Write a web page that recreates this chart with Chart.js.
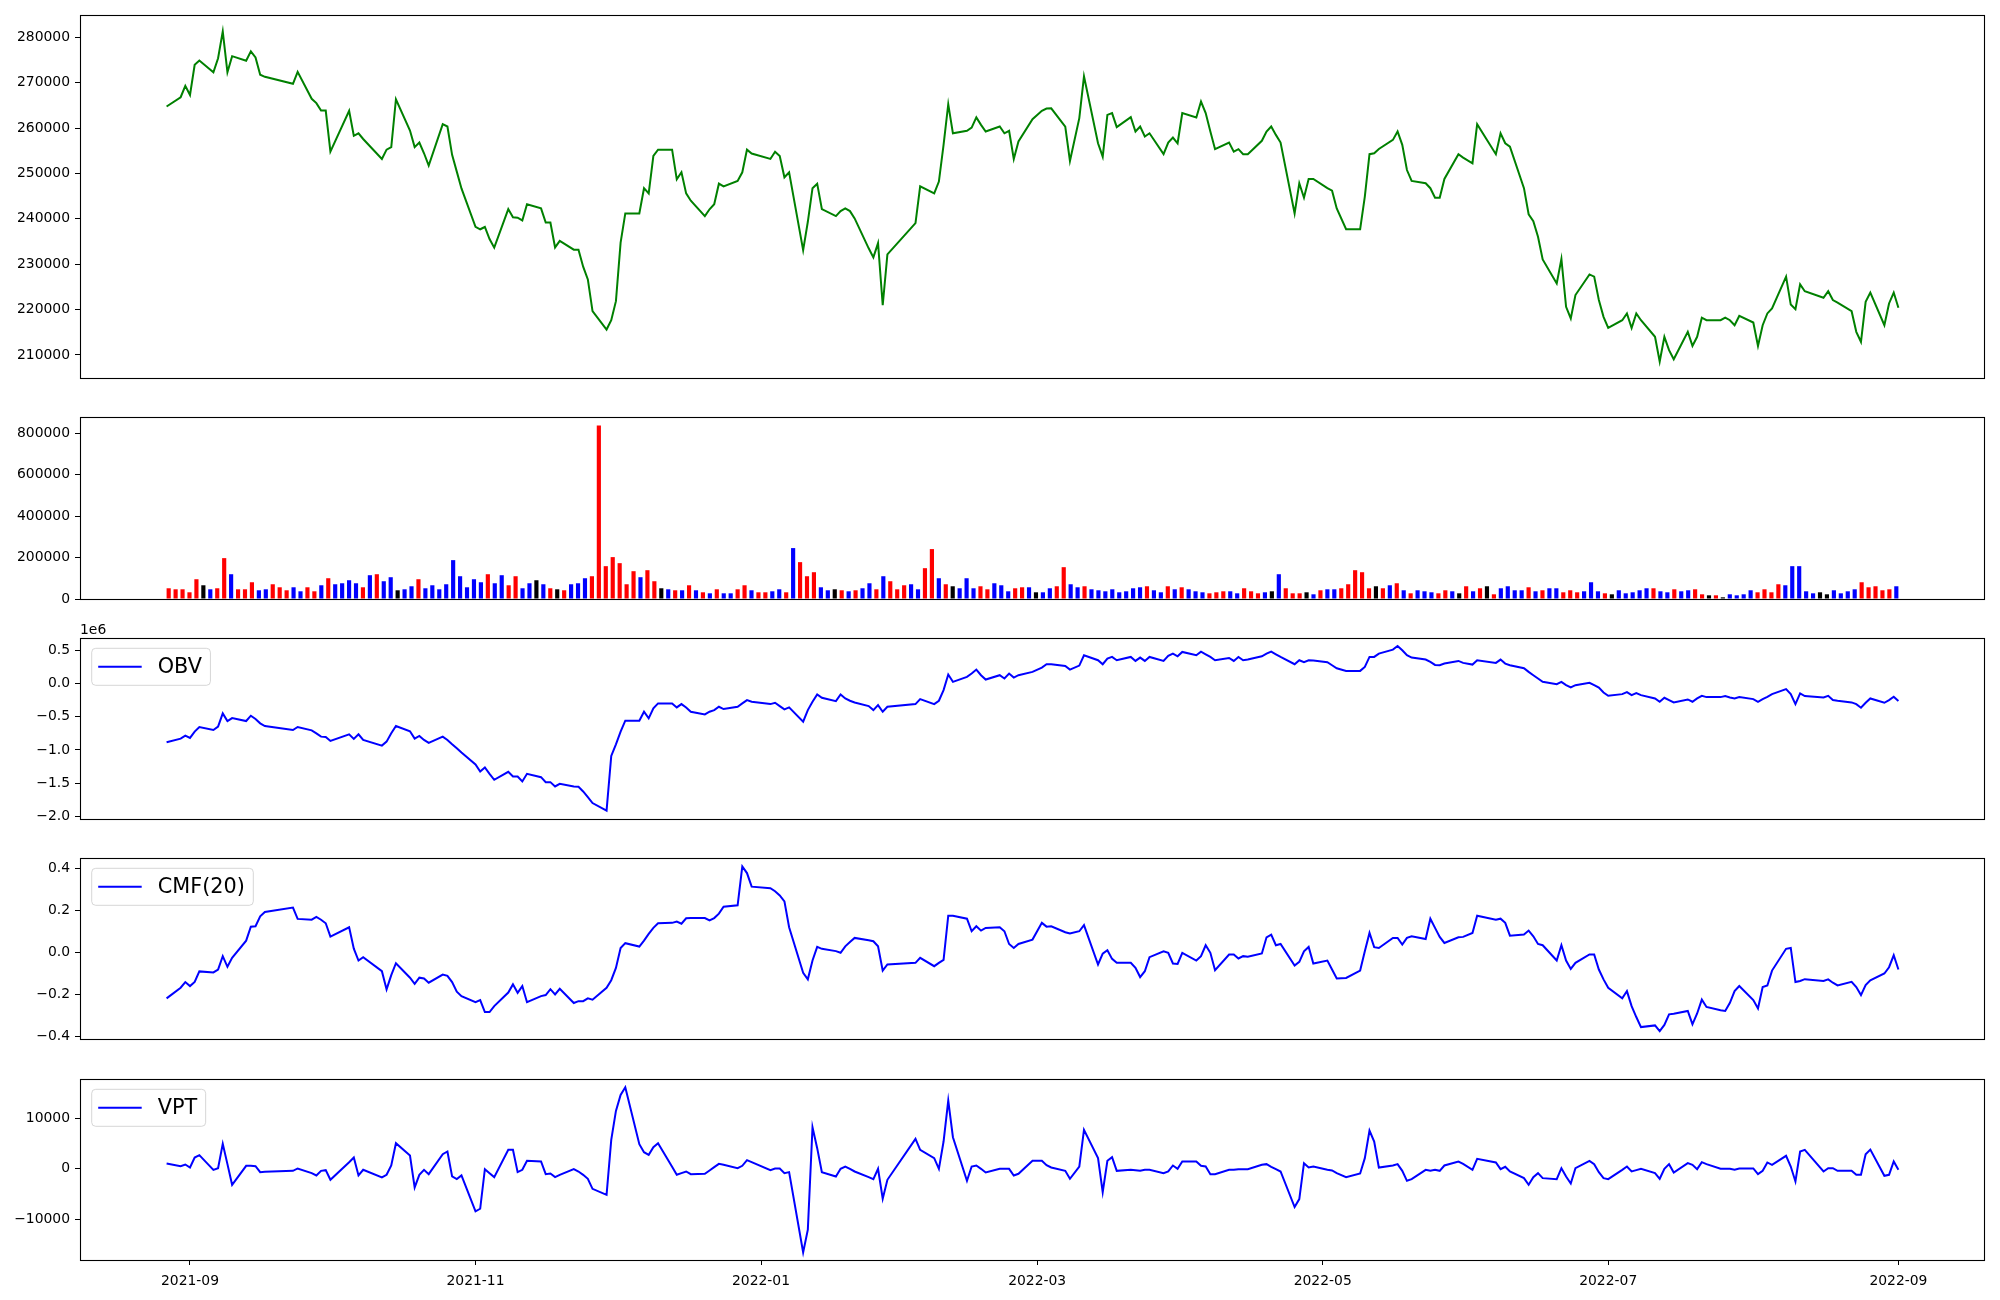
<!DOCTYPE html>
<html><head><meta charset="utf-8">
<script src="https://cdn.jsdelivr.net/npm/chart.js@4.4.1/dist/chart.umd.min.js"></script>
<style>
html,body{margin:0;padding:0;background:#fff;}
body{width:2000px;height:1300px;position:relative;overflow:hidden;}
canvas{position:absolute;left:0;}
</style></head><body>
<canvas id="cPrice" width="2000" height="398" style="top:0px"></canvas>
<canvas id="cVol" width="2000" height="221" style="top:397px"></canvas>
<canvas id="cObv" width="2000" height="221" style="top:618px"></canvas>
<canvas id="cCmf" width="2000" height="221" style="top:838px"></canvas>
<canvas id="cVpt" width="2000" height="241" style="top:1059px"></canvas>
<script>
// ---------------- DATA ----------------
const dates = [
"2021-08-27","2021-08-30","2021-08-31",
"2021-09-01","2021-09-02","2021-09-03","2021-09-06","2021-09-07","2021-09-08","2021-09-09","2021-09-10","2021-09-13","2021-09-14","2021-09-15","2021-09-16","2021-09-17","2021-09-23","2021-09-24","2021-09-27","2021-09-28","2021-09-29","2021-09-30",
"2021-10-01","2021-10-05","2021-10-06","2021-10-07","2021-10-08","2021-10-12","2021-10-13","2021-10-14","2021-10-15","2021-10-18","2021-10-19","2021-10-20","2021-10-21","2021-10-22","2021-10-25","2021-10-26","2021-10-27","2021-10-28","2021-10-29",
"2021-11-01","2021-11-02","2021-11-03","2021-11-04","2021-11-05","2021-11-08","2021-11-09","2021-11-10","2021-11-11","2021-11-12","2021-11-15","2021-11-16","2021-11-17","2021-11-18","2021-11-19","2021-11-22","2021-11-23","2021-11-24","2021-11-25","2021-11-26","2021-11-29","2021-11-30",
"2021-12-01","2021-12-02","2021-12-03","2021-12-06","2021-12-07","2021-12-08","2021-12-09","2021-12-10","2021-12-13","2021-12-14","2021-12-15","2021-12-16","2021-12-17","2021-12-20","2021-12-21","2021-12-22","2021-12-23","2021-12-24","2021-12-27","2021-12-28","2021-12-29","2021-12-30",
"2022-01-03","2022-01-04","2022-01-05","2022-01-06","2022-01-07","2022-01-10","2022-01-11","2022-01-12","2022-01-13","2022-01-14","2022-01-17","2022-01-18","2022-01-19","2022-01-20","2022-01-21","2022-01-24","2022-01-25","2022-01-26","2022-01-27","2022-01-28",
"2022-02-03","2022-02-04","2022-02-07","2022-02-08","2022-02-09","2022-02-10","2022-02-11","2022-02-14","2022-02-15","2022-02-16","2022-02-17","2022-02-18","2022-02-21","2022-02-22","2022-02-23","2022-02-24","2022-02-25","2022-02-28",
"2022-03-02","2022-03-03","2022-03-04","2022-03-07","2022-03-08","2022-03-10","2022-03-11","2022-03-14","2022-03-15","2022-03-16","2022-03-17","2022-03-18","2022-03-21","2022-03-22","2022-03-23","2022-03-24","2022-03-25","2022-03-28","2022-03-29","2022-03-30","2022-03-31",
"2022-04-01","2022-04-04","2022-04-05","2022-04-06","2022-04-07","2022-04-08","2022-04-11","2022-04-12","2022-04-13","2022-04-14","2022-04-15","2022-04-18","2022-04-19","2022-04-20","2022-04-21","2022-04-22","2022-04-25","2022-04-26","2022-04-27","2022-04-28","2022-04-29",
"2022-05-02","2022-05-03","2022-05-04","2022-05-06","2022-05-09","2022-05-10","2022-05-11","2022-05-12","2022-05-13","2022-05-16","2022-05-17","2022-05-18","2022-05-19","2022-05-20","2022-05-23","2022-05-24","2022-05-25","2022-05-26","2022-05-27","2022-05-30","2022-05-31",
"2022-06-02","2022-06-03","2022-06-07","2022-06-08","2022-06-09","2022-06-10","2022-06-13","2022-06-14","2022-06-15","2022-06-16","2022-06-17","2022-06-20","2022-06-21","2022-06-22","2022-06-23","2022-06-24","2022-06-27","2022-06-28","2022-06-29","2022-06-30",
"2022-07-01","2022-07-04","2022-07-05","2022-07-06","2022-07-07","2022-07-08","2022-07-11","2022-07-12","2022-07-13","2022-07-14","2022-07-15","2022-07-18","2022-07-19","2022-07-20","2022-07-21","2022-07-22","2022-07-25","2022-07-26","2022-07-27","2022-07-28","2022-07-29",
"2022-08-01","2022-08-02","2022-08-03","2022-08-04","2022-08-05","2022-08-08","2022-08-09","2022-08-10","2022-08-11","2022-08-12","2022-08-16","2022-08-17","2022-08-18","2022-08-19","2022-08-22","2022-08-23","2022-08-24","2022-08-25","2022-08-26","2022-08-29","2022-08-30","2022-08-31",
"2022-09-01"];

const closePrice = [
264750,266800,269300,
267300,273950,274900,272300,275400,281300,272300,275850,274850,276900,275550,271750,271300,269750,272400,266450,265500,263850,263850,
254800,263800,258300,258850,257600,253200,255250,255800,266350,259450,255800,256800,254450,251750,260850,260350,254100,250400,246700,
238250,237700,238200,235550,233650,242150,240350,240250,239650,243200,242300,239200,239200,233700,235150,233200,233200,229450,226650,219650,215600,217650,
221850,234750,241200,241200,246750,245600,253850,255250,255250,248700,250250,245600,244000,240600,242100,243200,247750,247150,248350,250250,255250,254400,
253200,254800,253850,249150,250250,233100,239350,246750,247750,242150,240600,241700,242300,241700,240100,233500,231500,234650,220950,232150,
239050,247150,245600,248200,256300,265250,258850,259400,260100,262350,260700,259250,260350,258850,259400,253200,257050,261950,
263800,264300,264350,260340,252760,262200,271400,256650,253700,262900,263300,260200,262400,259250,260350,258150,258850,254250,256800,257900,256650,
263300,262350,265850,263300,259250,255350,256800,254800,255350,254250,254250,257200,259250,260350,258500,256800,241200,247850,244650,248800,248800,
246750,246200,242300,237700,237700,244900,254250,254450,255400,257400,259250,256300,250750,248350,247850,246750,244650,244650,248800,254250,253500,
252250,260850,254250,258850,256650,255900,246750,241000,239500,236050,231050,225750,231150,220600,218050,223200,227750,227250,222100,218400,
215950,217650,219150,215950,219150,217650,214000,208550,214000,211050,209050,215100,212000,214000,218200,217650,217650,218200,217650,216550,218600,
217150,212000,216550,219150,220250,227250,221100,220100,225550,224050,222600,224050,222100,221550,219650,215100,212900,221700,223750,216550,221350,223750,
220400];

const volume = [
51800,46900,46900,
32400,95500,66300,46900,51800,197400,119700,46900,46900,80900,42100,46900,71200,56600,42100,56600,37200,56600,37200,
66300,100300,71200,76000,90600,76000,56600,114900,119700,85800,105200,42100,46900,61500,95500,51800,66300,46900,71200,
187700,110000,56600,95500,80900,119700,76000,114900,66300,110000,51800,76000,90600,71200,51800,46900,42100,71200,76000,100300,110000,838000,
158600,202300,173100,71200,134300,105200,139100,85800,51800,46900,42100,42100,66300,42100,32400,27500,46900,27500,27500,46900,66300,42100,
32400,32400,37200,46900,32400,245900,178000,110000,129400,56600,42100,46900,42100,37200,42100,51800,76000,46900,110000,85800,
46900,66300,71200,46900,148900,241100,100300,71200,61500,51800,100300,51800,61500,46900,76000,66300,37200,51800,
56600,56600,32400,32400,51800,61500,153700,71200,56600,61500,46900,42100,37200,46900,32400,37200,51800,56600,61500,42100,32400,
61500,46900,56600,46900,37200,32400,27500,32400,37200,37200,27500,51800,37200,27500,32400,37200,119700,51800,27500,27500,32400,
22700,42100,46900,46900,51800,71200,139100,129400,51800,61500,51800,66300,76000,42100,27500,42100,37200,32400,27500,42100,37200,
27500,61500,37200,51800,61500,22700,51800,61500,42100,42100,56600,37200,42100,51800,51800,32400,42100,32400,37200,80900,
37200,27500,22700,42100,27500,32400,42100,51800,51800,37200,32400,46900,37200,42100,46900,22700,17800,17800,8100,22700,17800,
22700,42100,32400,46900,32400,71200,66300,158600,158600,37200,27500,32400,22700,42100,27500,37200,46900,80900,56600,61500,42100,46900,
61500];

// r = red, b = blue, k = black (one letter per volume bar)
const volumeColorCodes = (
"rrrrrkbrrb" + "rrrbbrrrbb" + "rrbrbbbbrb" + "rbbkbbrbbb" + "bbbbbbrbbr" +
"rbbkbrkrbb" + "brrrrrrrbr" + "rkbrbrbrbr" + "bbrrbrrbbr" + "brrrbbkrbr" +
"bbrbrrrbbr" + "rbrkbbbrrb" + "bbrrbkbbrr" + "bbrbbbbbbb" + "brbbrbrbbb" +
"rrrbbrrrbk" + "brrrkbrbbr" + "rrrrkrbrbr" + "bbbrrbkrbr" + "krbbbbrbrb" +
"brrrbbbrkb" + "bbbbrbbrbb" + "rrkrkbbbbr" + "rrrbbbbbkk" + "bbbbrrrrrb").split("");

const obv = [
-885000,-830000,-785000,
-820000,-725000,-655000,-700000,-650000,-450000,-565000,-520000,-565000,-485000,-535000,-600000,-640000,-700000,-655000,-705000,-750000,-800000,-805000,
-865000,-765000,-835000,-765000,-850000,-935000,-875000,-750000,-640000,-720000,-830000,-790000,-850000,-895000,-800000,-850000,-915000,-975000,-1040000,
-1220000,-1325000,-1265000,-1360000,-1450000,-1330000,-1400000,-1400000,-1475000,-1360000,-1410000,-1485000,-1485000,-1550000,-1510000,-1550000,-1555000,-1625000,-1710000,-1800000,-1915000,-1090000,
-915000,-725000,-560000,-560000,-425000,-525000,-375000,-300000,-300000,-360000,-310000,-360000,-425000,-465000,-425000,-400000,-350000,-385000,-350000,-300000,-250000,-275000,
-310000,-290000,-340000,-390000,-360000,-575000,-400000,-275000,-165000,-215000,-265000,-165000,-225000,-260000,-285000,-340000,-400000,-325000,-425000,-350000,
-310000,-235000,-310000,-260000,-100000,135000,25000,100000,150000,210000,125000,60000,125000,75000,150000,90000,125000,175000,
240000,290000,290000,265000,210000,270000,425000,350000,290000,375000,400000,350000,400000,340000,390000,340000,400000,340000,415000,450000,410000,
475000,425000,480000,440000,400000,350000,385000,340000,400000,350000,360000,410000,450000,480000,440000,400000,290000,350000,320000,350000,345000,
320000,275000,230000,190000,190000,250000,400000,400000,450000,510000,565000,500000,425000,390000,360000,325000,280000,275000,300000,340000,310000,
285000,350000,310000,360000,300000,275000,230000,175000,125000,75000,25000,-10000,25000,-25000,-60000,-25000,10000,-25000,-60000,-135000,
-185000,-160000,-130000,-175000,-145000,-175000,-225000,-275000,-215000,-250000,-285000,-240000,-275000,-225000,-185000,-205000,-205000,-190000,-210000,-225000,-205000,
-235000,-275000,-235000,-200000,-160000,-85000,-160000,-310000,-150000,-190000,-210000,-185000,-250000,-260000,-285000,-310000,-365000,-290000,-225000,-290000,-250000,-200000,
-265000];

const cmf20 = [
-0.220,-0.169,-0.142,
-0.161,-0.141,-0.091,-0.096,-0.082,-0.018,-0.069,-0.026,0.056,0.123,0.125,0.172,0.193,0.214,0.160,0.156,0.169,0.156,0.139,
0.075,0.120,0.018,-0.039,-0.023,-0.090,-0.177,-0.109,-0.052,-0.121,-0.150,-0.121,-0.125,-0.145,-0.106,-0.112,-0.142,-0.188,-0.209,
-0.238,-0.228,-0.285,-0.285,-0.257,-0.192,-0.153,-0.193,-0.161,-0.238,-0.209,-0.204,-0.176,-0.201,-0.174,-0.242,-0.233,-0.233,-0.220,-0.226,-0.169,-0.133,
-0.074,0.021,0.044,0.028,0.056,0.088,0.117,0.139,0.141,0.147,0.137,0.163,0.164,0.164,0.153,0.164,0.185,0.218,0.225,0.411,0.379,0.314,
0.307,0.292,0.272,0.244,0.120,-0.098,-0.129,-0.039,0.026,0.017,0.006,-0.002,0.029,0.050,0.069,0.058,0.053,0.029,-0.087,-0.058,
-0.050,-0.026,-0.066,-0.050,-0.036,0.175,0.175,0.161,0.101,0.125,0.104,0.117,0.120,0.101,0.040,0.021,0.040,0.061,
0.141,0.123,0.125,0.096,0.090,0.101,0.130,-0.058,-0.006,0.010,-0.031,-0.050,-0.050,-0.074,-0.118,-0.090,-0.023,0.005,-0.002,-0.053,-0.055,
-0.002,-0.039,-0.018,0.034,-0.002,-0.085,-0.010,-0.010,-0.029,-0.018,-0.021,-0.005,0.072,0.085,0.034,0.040,-0.063,-0.045,0.005,0.026,-0.053,
-0.039,-0.082,-0.125,-0.122,-0.087,0.005,0.093,0.025,0.021,0.069,0.069,0.037,0.069,0.077,0.064,0.161,0.117,0.074,0.045,0.072,0.074,
0.093,0.175,0.156,0.161,0.141,0.080,0.085,0.104,0.077,0.040,0.034,-0.039,0.034,-0.039,-0.079,-0.050,-0.010,-0.010,-0.082,-0.129,
-0.169,-0.220,-0.185,-0.257,-0.309,-0.357,-0.349,-0.376,-0.347,-0.296,-0.293,-0.280,-0.344,-0.292,-0.226,-0.261,-0.277,-0.280,-0.241,-0.185,-0.161,
-0.228,-0.268,-0.166,-0.158,-0.087,0.017,0.021,-0.142,-0.137,-0.128,-0.137,-0.129,-0.145,-0.158,-0.141,-0.166,-0.204,-0.156,-0.134,-0.101,-0.071,-0.014,
-0.082];

const vpt = [
1070,540,870,
270,2260,2720,-190,140,4970,940,-3160,605,605,540,-650,-585,-390,80,-850,-1310,-390,-255,
-2170,1330,2260,-1310,-190,-1710,-1180,670,5100,2650,-3690,-1180,-190,-1050,2920,3450,-1510,-2040,-1310,
-8450,-7920,-60,-850,-1640,3780,3780,-650,-190,1600,1460,-1050,-920,-1640,-1180,-60,-520,-1180,-1970,-3960,-5150,5760,
11510,14680,16200,4900,3320,2790,4310,5100,410,-1180,-850,-520,-1050,-980,-320,340,1000,800,140,605,1730,1330,
-255,80,80,-850,-650,-16580,-12090,8270,4110,-650,-1510,10,470,10,-520,-1640,-2040,10,-5940,-2170,
5960,3780,2130,10,5430,13560,6290,-2370,470,670,10,-720,10,10,10,-1310,-980,1600,
1600,740,270,-390,-1970,470,7740,2130,-4620,1600,2320,-390,-190,-255,-390,-190,-190,-850,-520,670,10,
1460,1460,605,470,-1050,-1050,-190,-190,-60,-60,-60,800,940,410,-60,-520,-7590,-6000,1130,270,470,
-190,-320,-850,-1640,-920,2130,7610,5430,270,670,940,-390,-2370,-2040,-190,-390,-190,-390,670,1460,1000,
-190,1990,1270,-60,410,-520,-1840,-3160,-1640,-850,-1840,-2040,140,-1510,-2900,140,1600,940,-650,-1840,
-2040,-190,470,-520,-255,10,-850,-1970,10,940,-720,1130,800,-60,1330,940,10,10,10,-190,80,
80,-1050,-390,1270,800,2590,470,-2500,3450,3780,-520,140,140,-390,-390,-1180,-1180,2920,3840,-1380,-1180,1460,
-190];

const priceTicks = [210000,220000,230000,240000,250000,260000,270000,280000];
const volumeTicks = [0,200000,400000,600000,800000];
const obvTicks = [-2000000,-1500000,-1000000,-500000,0,500000];
const cmfTicks = [-0.4,-0.2,0.0,0.2,0.4];
const vptTicks = [-10000,0,10000];
const xTickDates = ["2021-09-01","2021-11-01","2022-01-01","2022-03-01","2022-05-01","2022-07-01","2022-09-01"];
const xTickLabels = ["2021-09","2021-11","2022-01","2022-03","2022-05","2022-07","2022-09"];

// ---------------- RENDER ----------------
const FONT = 'DejaVu Sans';
Chart.defaults.font.family = FONT;
Chart.defaults.color = '#000';
const colorMap = { r: '#ff0000', b: '#0000ff', k: '#000000' };
const dayNum = s => Date.UTC(+s.slice(0,4), +s.slice(5,7)-1, +s.slice(8,10)) / 86400000;
const xs = dates.map(dayNum);
const span = xs[xs.length-1] - xs[0];
const xMin = xs[0] - 0.05*span, xMax = xs[xs.length-1] + 0.05*span;
const minus = s => String(s).replace('-', '\u2212');

const framePlugin = {
  id: 'frame',
  afterDraw(chart) {
    const a = chart.chartArea, c = chart.ctx;
    c.save();
    c.strokeStyle = '#000'; c.lineWidth = 1.1;
    c.strokeRect(Math.round(a.left) + 0.5, Math.round(a.top) + 0.5, Math.round(a.right - a.left) - 1, Math.round(a.bottom - a.top));
    c.restore();
  }
};

const mplLegend = {
  id: 'mplLegend',
  afterDraw(chart, args, opts) {
    if (!opts || !opts.show) return;
    const ds = chart.data.datasets[0];
    const text = ds.label, c = chart.ctx, a = chart.chartArea;
    const fs = 20.8;
    c.save();
    c.font = fs + 'px "' + FONT + '"';
    const tw = c.measureText(text).width;
    const x0 = a.left + 11.7, y0 = a.top + 10.3, w = 66 + tw + 8.5, h = 37, r = 4;
    c.beginPath();
    c.moveTo(x0 + r, y0);
    c.lineTo(x0 + w - r, y0); c.quadraticCurveTo(x0 + w, y0, x0 + w, y0 + r);
    c.lineTo(x0 + w, y0 + h - r); c.quadraticCurveTo(x0 + w, y0 + h, x0 + w - r, y0 + h);
    c.lineTo(x0 + r, y0 + h); c.quadraticCurveTo(x0, y0 + h, x0, y0 + h - r);
    c.lineTo(x0, y0 + r); c.quadraticCurveTo(x0, y0, x0 + r, y0);
    c.closePath();
    c.fillStyle = 'rgba(255,255,255,0.8)'; c.fill();
    c.strokeStyle = 'rgba(204,204,204,0.8)'; c.lineWidth = 1; c.stroke();
    c.beginPath();
    c.strokeStyle = ds.borderColor; c.lineWidth = 2;
    c.moveTo(x0 + 6.5, y0 + h / 2); c.lineTo(x0 + 50, y0 + h / 2); c.stroke();
    c.fillStyle = '#000'; c.textBaseline = 'middle'; c.textAlign = 'left';
    c.fillText(text, x0 + 66, y0 + h / 2 + 1);
    c.restore();
  }
};

const offsetText = {
  id: 'offsetText',
  afterDraw(chart, args, opts) {
    if (!opts || !opts.text) return;
    const c = chart.ctx, a = chart.chartArea;
    c.save();
    c.font = '13.9px "' + FONT + '"';
    c.fillStyle = '#000'; c.textAlign = 'left'; c.textBaseline = 'alphabetic';
    c.fillText(opts.text, a.left, a.top - 4);
    c.restore();
  }
};

function yAxis(min, max, tickValues, fmt) {
  return {
    type: 'linear', position: 'left', min: min, max: max,
    afterFit: s => { s.width = 80; },
    afterBuildTicks: s => { s.ticks = tickValues.map(v => ({ value: v })); },
    ticks: { color: '#000', font: { family: FONT, size: 13.9 }, padding: 5, autoSkip: false, callback: fmt },
    grid: { display: true, drawOnChartArea: false, drawTicks: true, tickLength: 5, color: '#000', lineWidth: 1 },
    border: { display: false }
  };
}

function hiddenX() {
  return { type: 'linear', min: xMin, max: xMax, display: false };
}

function baseOptions(padding, scales, pluginOpts) {
  return {
    responsive: false, maintainAspectRatio: false, animation: false, devicePixelRatio: 1,
    layout: { padding: padding },
    plugins: Object.assign({ legend: { display: false }, tooltip: { enabled: false } }, pluginOpts || {}),
    scales: scales
  };
}

function lineDataset(label, values, color) {
  return {
    label: label,
    data: values.map((v, i) => ({ x: xs[i], y: v })),
    borderColor: color, borderWidth: 2, pointRadius: 0, tension: 0, fill: false
  };
}

// Panel 1: price
new Chart(document.getElementById('cPrice'), {
  type: 'line',
  data: { datasets: [lineDataset('Close', closePrice, '#008000')] },
  options: baseOptions({ left: 0, right: 15, top: 15, bottom: 20 }, {
    x: hiddenX(),
    y: yAxis(204920, 284920, priceTicks, v => String(v))
  }),
  plugins: [framePlugin]
});

// Panel 2: volume
const nBars = volume.length;
const barSpan = (nBars - 1) + 0.6;
new Chart(document.getElementById('cVol'), {
  type: 'bar',
  data: { datasets: [{
    label: 'Volume',
    data: volume.map((v, i) => ({ x: i, y: v })),
    backgroundColor: volumeColorCodes.map(c => colorMap[c]),
    borderWidth: 0, barPercentage: 0.6, categoryPercentage: 1.0
  }] },
  options: baseOptions({ left: 0, right: 15, top: 20, bottom: 19 }, {
    x: { type: 'linear', min: -0.3 - 0.05 * barSpan, max: nBars - 1 + 0.3 + 0.05 * barSpan, offset: false, display: false, grid: { offset: false } },
    y: yAxis(0, 879000, volumeTicks, v => String(v))
  }),
  plugins: [framePlugin]
});

// Panel 3: OBV
new Chart(document.getElementById('cObv'), {
  type: 'line',
  data: { datasets: [lineDataset('OBV', obv, '#0000ff')] },
  options: baseOptions({ left: 0, right: 15, top: 20, bottom: 20 }, {
    x: hiddenX(),
    y: yAxis(-2040000, 685000, obvTicks, v => minus((v / 1e6).toFixed(1)))
  }, { mplLegend: { show: true }, offsetText: { text: '1e6' } }),
  plugins: [framePlugin, mplLegend, offsetText]
});

// Panel 4: CMF(20)
new Chart(document.getElementById('cCmf'), {
  type: 'line',
  data: { datasets: [lineDataset('CMF(20)', cmf20, '#0000ff')] },
  options: baseOptions({ left: 0, right: 15, top: 20, bottom: 20 }, {
    x: hiddenX(),
    y: yAxis(-0.414, 0.451, cmfTicks, v => minus(Number(v).toFixed(1)))
  }, { mplLegend: { show: true } }),
  plugins: [framePlugin, mplLegend]
});

// Panel 5: VPT with date axis
new Chart(document.getElementById('cVpt'), {
  type: 'line',
  data: { datasets: [lineDataset('VPT', vpt, '#0000ff')] },
  options: baseOptions({ left: 0, right: 15, top: 20, bottom: 0 }, {
    x: {
      type: 'linear', position: 'bottom', min: xMin, max: xMax,
      afterBuildTicks: s => { s.ticks = xTickDates.map(d => ({ value: dayNum(d) })); },
      afterFit: s => { s.height = 40; },
      ticks: { color: '#000', font: { family: FONT, size: 13.9 }, padding: 8, autoSkip: false, maxRotation: 0, callback: (v, i) => xTickLabels[i] },
      grid: { display: true, drawOnChartArea: false, drawTicks: true, tickLength: 5, color: '#000', lineWidth: 1 },
      border: { display: false }
    },
    y: yAxis(-18100, 17850, vptTicks, v => minus(v))
  }, { mplLegend: { show: true } }),
  plugins: [framePlugin, mplLegend]
});
</script>
</body></html>
